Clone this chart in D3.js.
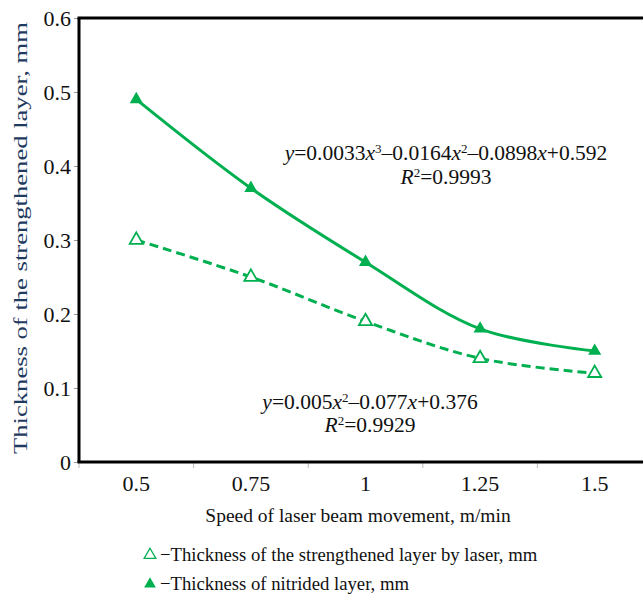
<!DOCTYPE html>
<html>
<head>
<meta charset="utf-8">
<script src="https://cdn.jsdelivr.net/npm/d3@7"></script>
<style>
  body { margin:0; background:#fff; font-family:"Liberation Serif","Times New Roman",serif; }
  svg text { fill:#111; }
</style>
</head>
<body>
<script>
var speeds = ["0.5","0.75","1","1.25","1.5"],
    laserLayer = [0.30, 0.25, 0.19, 0.14, 0.12],
    nitridedLayer = [0.49, 0.37, 0.27, 0.18, 0.15],
    yTicks = [0, 0.1, 0.2, 0.3, 0.4, 0.5, 0.6];

var width = 643, height = 598,
    green = "#00b050";

var svg = d3.select("body").append("svg")
    .attr("width", width)
    .attr("height", height);

var marginLeft = 79, plotTop = 18, plotBottom = 462;

var x = d3.scaleBand()
    .domain(speeds)
    .range([marginLeft, marginLeft + 114.6*5]);

var y = d3.scaleLinear()
    .domain([0, 0.6])
    .range([plotBottom, plotTop]);

// axes
var xAxis = svg.append("g")
    .attr("transform","translate(0,"+plotBottom+")")
    .call(d3.axisBottom(x).tickSize(0).tickPadding(13));
xAxis.select(".domain").remove();
xAxis.selectAll("text").style("font-size","22px").style("font-family","Liberation Serif");

// x tick marks at band edges
svg.selectAll(".xtick")
    .data(speeds)
  .enter().append("line")
    .attr("x1", function(d){ return x(d); })
    .attr("x2", function(d){ return x(d); })
    .attr("y1", plotBottom)
    .attr("y2", plotBottom + 6)
    .style("stroke","#bbb");

var yAxis = svg.append("g")
    .attr("transform","translate("+marginLeft+",0)")
    .call(d3.axisLeft(y).tickValues(yTicks).tickSize(5).tickPadding(3)
      .tickFormat(function(d){ return d === 0 ? "0" : d3.format(".1f")(d); }));
yAxis.select(".domain").remove();
yAxis.selectAll("line").style("stroke","#999");
yAxis.selectAll("text").style("font-size","22px").style("font-family","Liberation Serif");

// frame
svg.append("line").attr("x1",marginLeft).attr("x2",marginLeft).attr("y1",plotTop).attr("y2",plotBottom)
    .style("stroke","#000").style("stroke-width",3);
svg.append("line").attr("x1",marginLeft-1.5).attr("x2",width).attr("y1",plotBottom).attr("y2",plotBottom)
    .style("stroke","#000").style("stroke-width",3);
svg.append("line").attr("x1",marginLeft-1.5).attr("x2",width).attr("y1",plotTop).attr("y2",plotTop)
    .style("stroke","#000").style("stroke-width",3);

// lines
var line = d3.line()
    .x(function(d,i){ return x(speeds[i]) + x.bandwidth()/2; })
    .y(function(d){ return y(d); })
    .curve(d3.curveCatmullRom.alpha(0.5));

svg.append("path")
    .datum(nitridedLayer)
    .attr("d", line)
    .style("fill","none")
    .style("stroke",green)
    .style("stroke-width",3);

svg.append("path")
    .datum(laserLayer)
    .attr("d", line)
    .style("fill","none")
    .style("stroke",green)
    .style("stroke-width",3)
    .style("stroke-dasharray","9,5");

var tri = d3.symbol().type(d3.symbolTriangle).size(75);

svg.selectAll(".nit")
    .data(nitridedLayer)
  .enter().append("path")
    .attr("class","nit")
    .attr("d", tri)
    .attr("transform", function(d,i){ return "translate("+(x(speeds[i])+x.bandwidth()/2)+","+y(d)+")"; })
    .style("fill",green);

svg.selectAll(".las")
    .data(laserLayer)
  .enter().append("path")
    .attr("class","las")
    .attr("d", tri)
    .attr("transform", function(d,i){ return "translate("+(x(speeds[i])+x.bandwidth()/2)+","+y(d)+")"; })
    .style("fill","#fff")
    .style("stroke",green)
    .style("stroke-width",1.8);

// equations
function equation(cx, cy, parts){
  var t = svg.append("text")
    .attr("x", cx).attr("y", cy)
    .attr("text-anchor","middle")
    .style("font-size","21.5px");
  parts.forEach(function(p){
    var s = t.append("tspan").text(p[0]);
    if(p[1] === "i") s.style("font-style","italic");
    if(p[1] === "sup") s.attr("baseline-shift","super").style("font-size","13px");
  });
}

equation(446, 160, [["y","i"],["=0.0033"],["x","i"],["3","sup"],["\u20130.0164"],["x","i"],["2","sup"],["\u20130.0898"],["x","i"],["+0.592"]]);
equation(446, 184, [["R","i"],["2","sup"],["=0.9993"]]);
equation(370, 409, [["y","i"],["=0.005"],["x","i"],["2","sup"],["\u20130.077"],["x","i"],["+0.376"]]);
equation(370, 432, [["R","i"],["2","sup"],["=0.9929"]]);

// axis titles
svg.append("text")
    .attr("x", 358).attr("y", 522)
    .attr("text-anchor","middle")
    .style("font-size","19.5px")
    .text("Speed of laser beam movement, m/min");

svg.append("text")
    .attr("transform","translate(27,238)rotate(-90)")
    .attr("text-anchor","middle")
    .attr("textLength", 432)
    .attr("lengthAdjust","spacingAndGlyphs")
    .style("font-size","18.5px")
    .style("fill","#1f3a5f")
    .text("Thickness of the strengthened layer, mm");

// legend
var legend = [
  {label:"Thickness of the strengthened layer by laser, mm", filled:false},
  {label:"Thickness of nitrided layer, mm", filled:true}
];
var items = svg.selectAll(".leg")
    .data(legend)
  .enter().append("g")
    .attr("transform", function(d,i){ return "translate(150,"+(561+i*29)+")"; });
items.append("path")
    .attr("d", d3.symbol().type(d3.symbolTriangle).size(60))
    .attr("transform","translate(0,-6)")
    .style("fill", function(d){ return d.filled ? green : "#fff"; })
    .style("stroke", green)
    .style("stroke-width", function(d){ return d.filled ? 0 : 1.3; });
items.append("text")
    .attr("x", 10)
    .style("font-size","18.7px")
    .text(function(d){ return "\u2212" + d.label; });
</script>
</body>
</html>
